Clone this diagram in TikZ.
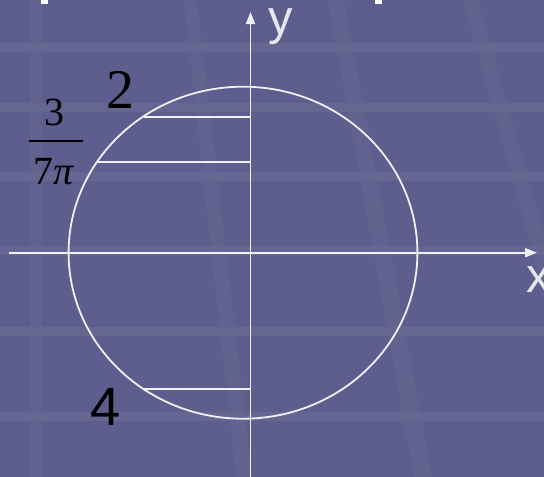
\documentclass[tikz,border=0pt]{standalone}
\usepackage{fontspec}
\setmainfont{Liberation Serif}
\newfontfamily\arialf{Liberation Sans}
\usetikzlibrary{arrows.meta}
\definecolor{bgc}{HTML}{5D5E8D}
\definecolor{vstripe}{HTML}{62628E}
\definecolor{hstripe}{HTML}{656692}
\definecolor{linec}{HTML}{F0F0F4}
\definecolor{labc}{HTML}{E6E6EE}
\tikzset{
  axisline/.style={draw=linec, line width=1.8pt, -{Triangle[length=12pt,width=9pt]}},
  wline/.style={draw=linec, line width=1.8pt},
  numlab/.style={inner sep=0pt, anchor=base, text=black},
  axlab/.style={inner sep=0pt, text=labc, font=\arialf\fontsize{49}{49}\selectfont},
}
\begin{document}
\begin{tikzpicture}[x=1pt,y=-1pt]
\fill[bgc] (0,0) rectangle (544,477);
\useasboundingbox (0,0) rectangle (544,477);
% background texture stripes
\fill[vstripe] (30,0) rectangle (42,477);
\fill[vstripe] (184,0) -- (197,0) -- (252,477) -- (236,477) -- cycle;
\fill[vstripe] (328,0) -- (344,0) -- (432,477) -- (414,477) -- cycle;
\fill[vstripe] (463,0) -- (478,0) -- (612,477) -- (595,477) -- cycle;
\foreach \a/\b in {43/52, 103/112, 172/181, 246/255, 327/336, 412/421}
  \fill[hstripe] (0,\a) rectangle (544,\b);
% cut-off title fragments
\fill[white] (41,0) rectangle (48,4);
\fill[white] (375,0) rectangle (382,4);
% coordinates
\coordinate (xl) at (8.7,252.7);
\coordinate (xr) at (537,252.7);
\coordinate (yb) at (250.5,477);
\coordinate (yt) at (250.5,12);
\coordinate (C) at (243,252.7);
\coordinate (p1) at (144,116.7);
\coordinate (q1) at (250.5,116.7);
\coordinate (p2) at (98,162);
\coordinate (q2) at (250.5,162);
\coordinate (p3) at (144,389.3);
\coordinate (q3) at (250.5,389.3);
\coordinate (f1) at (29,140.7);
\coordinate (f2) at (83,140.7);
% ellipse
\draw[wline] (C) ellipse [x radius=174.4, y radius=166];
% chords
\draw[wline] (p1) -- (q1);
\draw[wline] (p2) -- (q2);
\draw[wline] (p3) -- (q3);
% axes
\draw[axisline] (xl) -- (xr);
\draw[axisline] (yb) -- (yt);
% axis labels
\node[axlab, anchor=base] (ylab) at (281,34.4) {y};
\node[axlab, anchor=base west] (xlab) at (526,292) {x};
% number labels
\node[numlab, font=\fontsize{56}{56}\selectfont] (two) at (120.5,108) {2};
\node[numlab, font=\fontsize{40}{40}\selectfont] (three) at (55,125) {3};
\draw[draw=black, line width=1.6pt] (f1) -- (f2);
\node[numlab, font=\fontsize{40}{40}\selectfont] (sevenpi) at (53.5,184.5) {7\textit{π}};
\node[numlab, font=\arialf\fontsize{54}{54}\selectfont] (four) at (106,425) {4};
\end{tikzpicture}
\end{document}
